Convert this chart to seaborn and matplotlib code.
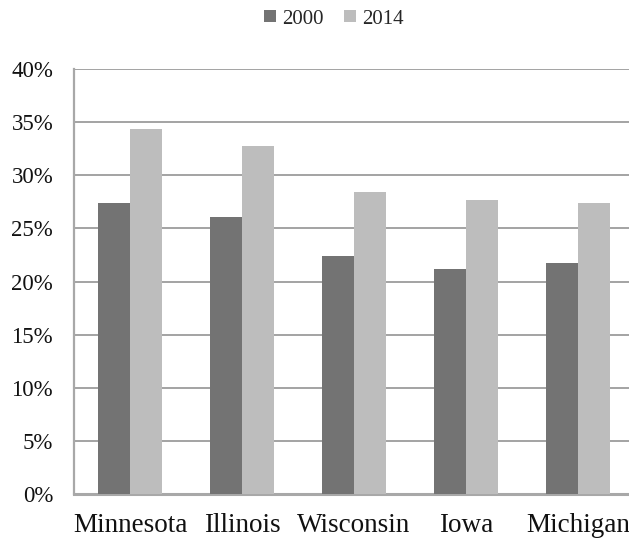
import matplotlib
matplotlib.use("Agg")
import matplotlib.pyplot as plt
import seaborn as sns
import pandas as pd
from matplotlib.ticker import FuncFormatter

states = ["Minnesota", "Illinois", "Wisconsin", "Iowa", "Michigan"]
years = ["2000", "2014"]
vals_2000 = [27.4, 26.1, 22.4, 21.2, 21.7]
vals_2014 = [34.4, 32.8, 28.4, 27.7, 27.4]
yticks = [0, 5, 10, 15, 20, 25, 30, 35, 40]

df = pd.DataFrame({
    "state": states * 2,
    "year": [years[0]] * len(states) + [years[1]] * len(states),
    "value": vals_2000 + vals_2014,
})

sns.set_theme(style="white")
plt.rcParams["font.family"] = ["Liberation Serif", "DejaVu Serif"]

fig = plt.figure(figsize=(6.29, 5.40), dpi=100)
W, H = 629, 540
left_px, right_px, top_px, bottom_px = 74, 634, 69, 494
ax = fig.add_axes([left_px / W, 1 - bottom_px / H, (right_px - left_px) / W, (bottom_px - top_px) / H])

sns.barplot(data=df, x="state", y="value", hue="year", order=states, hue_order=years,
            palette={"2000": "#737373", "2014": "#bdbdbd"}, width=0.57, dodge=True,
            saturation=1, errorbar=None, ax=ax, legend=True, linewidth=0, zorder=3)

ax.set_xlim(-0.5, 4.5)
ax.set_ylim(0, 40)
ax.set_yticks(yticks)
ax.yaxis.set_major_formatter(FuncFormatter(lambda v, p: f"{int(v)}%"))
ax.grid(axis="y", color="#a3a3a3", linewidth=1.4, zorder=0)
ax.grid(axis="x", visible=False)
ax.set_axisbelow(True)
ax.set_xlabel("")
ax.set_ylabel("")
for s in ["top", "right"]:
    ax.spines[s].set_visible(False)
ax.spines["left"].set_color("#a8a8a8")
ax.spines["left"].set_linewidth(1.6)
ax.spines["bottom"].set_color("#a8a8a8")
ax.spines["bottom"].set_linewidth(2.2)
ax.tick_params(axis="y", length=0, pad=15, labelsize=16.5, labelcolor="#111111")
ax.tick_params(axis="x", length=0, pad=14, labelsize=19.5, labelcolor="#111111")

handles, labels = ax.get_legend_handles_labels()
ax.legend_.remove()
fig.legend(handles, labels, loc="center", bbox_to_anchor=(334 / W, 1 - 19 / H), ncol=2,
           frameon=False, fontsize=15, handlelength=0.55, handleheight=0.55,
           handletextpad=0.3, columnspacing=1.0)

fig.savefig("out.png", dpi=100)
